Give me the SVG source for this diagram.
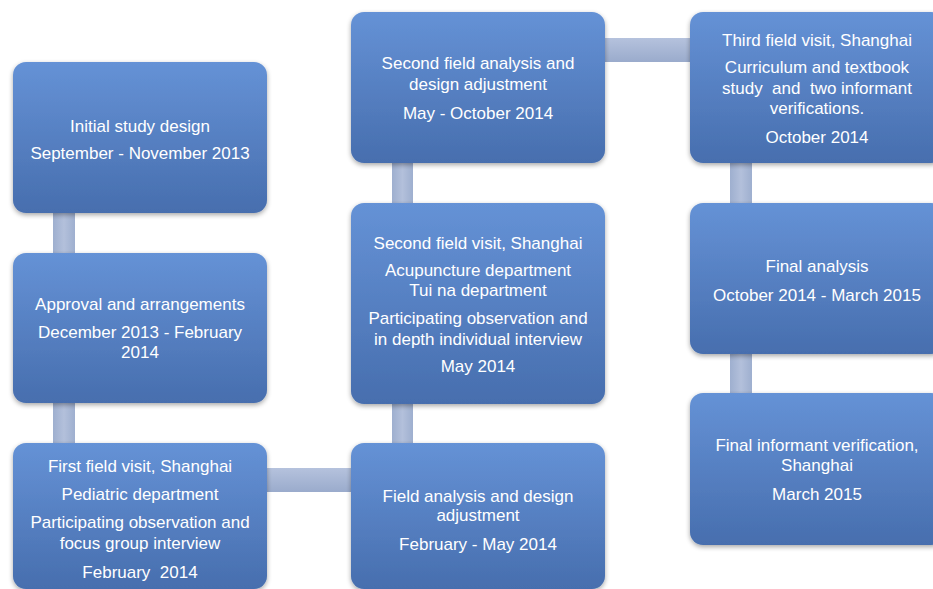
<svg xmlns="http://www.w3.org/2000/svg" width="933" height="589" viewBox="0 0 933 589">
<style>
.box{fill:url(#bg);filter:url(#sh)}
.conn{fill:url(#cg)}
.connh{fill:url(#cgh)}
text{font-family:"Liberation Sans",Arial,sans-serif;font-size:17px;fill:#ffffff;text-anchor:middle;white-space:pre}
</style>
<defs>
<linearGradient id="bg" x1="0" y1="0" x2="0" y2="1">
<stop offset="0" stop-color="#6592d6"/>
<stop offset="1" stop-color="#476eae"/>
</linearGradient>
<linearGradient id="cg" x1="0" y1="0" x2="1" y2="0">
<stop offset="0" stop-color="#9eafcf"/>
<stop offset="0.5" stop-color="#b3c0db"/>
<stop offset="1" stop-color="#9eafcf"/>
</linearGradient>
<linearGradient id="cgh" x1="0" y1="0" x2="0" y2="1">
<stop offset="0" stop-color="#b5c2dd"/>
<stop offset="1" stop-color="#9aabcc"/>
</linearGradient>
<filter id="sh" x="-10%" y="-10%" width="120%" height="125%">
<feGaussianBlur in="SourceAlpha" stdDeviation="2.5"/>
<feOffset dy="2" result="b"/>
<feComponentTransfer><feFuncA type="linear" slope="0.35"/></feComponentTransfer>
<feMerge><feMergeNode/><feMergeNode in="SourceGraphic"/></feMerge>
</filter>
</defs>
<rect width="933" height="589" fill="#ffffff"/>
<g id="connectors">
<rect class="conn" x="53" y="205" width="22" height="56"/>
<rect class="conn" x="53" y="395" width="22" height="56"/>
<rect class="connh" x="260" y="468" width="98" height="24"/>
<rect class="conn" x="392" y="396" width="21" height="55"/>
<rect class="conn" x="392" y="155" width="21" height="56"/>
<rect class="connh" x="598" y="38" width="99" height="24"/>
<rect class="conn" x="730" y="155" width="22" height="56"/>
<rect class="conn" x="730" y="346" width="22" height="55"/>
</g>
<g id="n1">
<rect class="box" x="13" y="62" width="254" height="151" rx="13"/>
<text x="140" y="132">Initial study design</text>
<text x="140" y="159">September - November 2013</text>
</g>
<g id="n2">
<rect class="box" x="13" y="253" width="254" height="150" rx="13"/>
<text x="140" y="310">Approval and arrangements</text>
<text x="140" y="338">December 2013 - February</text>
<text x="140" y="358">2014</text>
</g>
<g id="n3">
<rect class="box" x="13" y="443" width="254" height="146" rx="13"/>
<text x="140" y="472">First field visit, Shanghai</text>
<text x="140" y="500">Pediatric department</text>
<text x="140" y="528">Participating observation and</text>
<text x="140" y="549">focus group interview</text>
<text x="140" y="578">February  2014</text>
</g>
<g id="n4">
<rect class="box" x="351" y="443" width="254" height="146" rx="13"/>
<text x="478" y="502">Field analysis and design</text>
<text x="478" y="521">adjustment</text>
<text x="478" y="550">February - May 2014</text>
</g>
<g id="n5">
<rect class="box" x="351" y="203" width="254" height="201" rx="13"/>
<text x="478" y="249">Second field visit, Shanghai</text>
<text x="478" y="276">Acupuncture department</text>
<text x="478" y="296">Tui na department</text>
<text x="478" y="324">Participating observation and</text>
<text x="478" y="345">in depth individual interview</text>
<text x="478" y="372">May 2014</text>
</g>
<g id="n6">
<rect class="box" x="351" y="12" width="254" height="151" rx="13"/>
<text x="478" y="69">Second field analysis and</text>
<text x="478" y="90">design adjustment</text>
<text x="478" y="119">May - October 2014</text>
</g>
<g id="n7">
<rect class="box" x="690" y="12" width="254" height="151" rx="13"/>
<text x="817" y="46">Third field visit, Shanghai</text>
<text x="817" y="73">Curriculum and textbook</text>
<text x="817" y="94">study  and  two informant</text>
<text x="817" y="114">verifications.</text>
<text x="817" y="143">October 2014</text>
</g>
<g id="n8">
<rect class="box" x="690" y="203" width="254" height="151" rx="13"/>
<text x="817" y="272">Final analysis</text>
<text x="817" y="301">October 2014 - March 2015</text>
</g>
<g id="n9">
<rect class="box" x="690" y="393" width="254" height="152" rx="13"/>
<text x="817" y="451">Final informant verification,</text>
<text x="817" y="471">Shanghai</text>
<text x="817" y="500">March 2015</text>
</g>
</svg>
